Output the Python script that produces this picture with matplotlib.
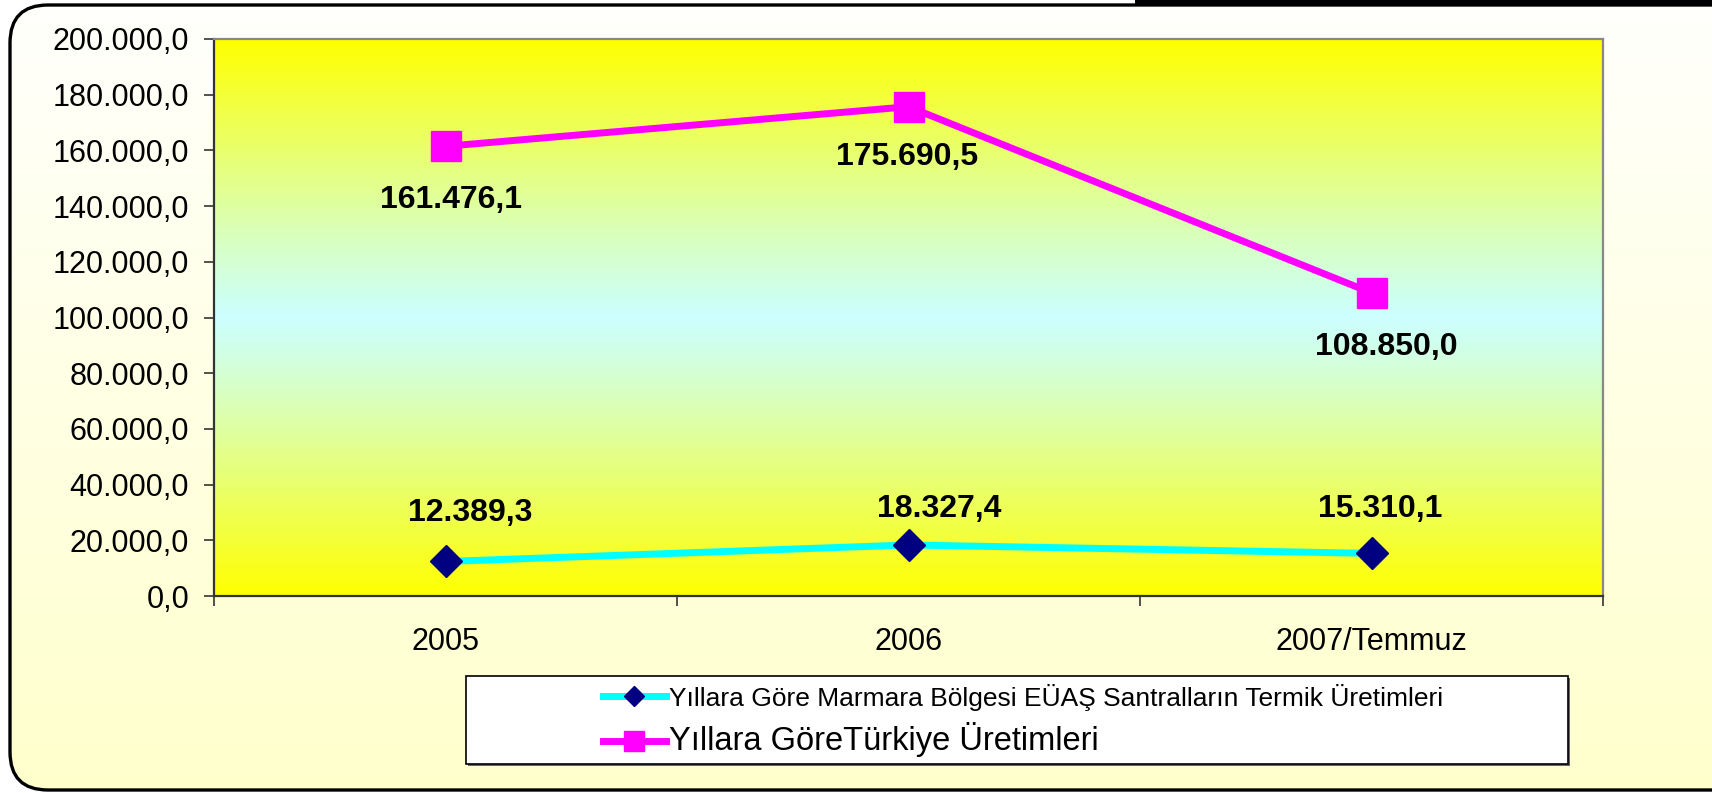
import numpy as np
import matplotlib.pyplot as plt
from matplotlib.patches import FancyBboxPatch, Rectangle
from matplotlib.lines import Line2D

plt.rcParams['font.family'] = ['Liberation Sans', 'DejaVu Sans']

# data
years = ['2005', '2006', '2007/Temmuz']
marmara = [12389.3, 18327.4, 15310.1]
turkiye = [161476.1, 175690.5, 108850.0]
label_marmara = 'Yıllara Göre Marmara Bölgesi EÜAŞ Santralların Termik Üretimleri'
label_turkiye = 'Yıllara GöreTürkiye Üretimleri'


def tr_fmt(v):
    s = f"{v:,.1f}"
    return s.replace(',', 'X').replace('.', ',').replace('X', '.')


W, H = 1712, 793
fig = plt.figure(figsize=(W / 100, H / 100), dpi=100)
fig.patch.set_facecolor('white')

# background with rounded frame
bg = fig.add_axes([0, 0, 1, 1], zorder=-10)
bg.set_xlim(0, W)
bg.set_ylim(H, 0)
bg.axis('off')
grad = np.linspace(0, 1, 256)[:, None]
top_c = np.array([1.0, 1.0, 0.99])
bot_c = np.array([1.0, 1.0, 0.80])
img = top_c + (bot_c - top_c) * grad[..., None]
frame = FancyBboxPatch((10, 5), W + 100, H - 8, boxstyle='round,pad=0,rounding_size=38',
                       facecolor='none', edgecolor='black', linewidth=2.4, zorder=3)
bg.add_patch(frame)
im = bg.imshow(np.repeat(img, 2, axis=1), extent=(0, W, H, 0), aspect='auto', zorder=1)
im.set_clip_path(frame)
bg.plot([1135, W], [2, 2], color='black', linewidth=4.5, solid_capstyle='butt', zorder=4)

# plot area
ax = fig.add_axes([214 / W, 1 - 596 / H, (1603 - 214) / W, (596 - 39) / H])
ax.set_facecolor('none')
g = np.abs(np.linspace(-1, 1, 256))[:, None]
yel = np.array([1.0, 1.0, 0.0])
cy = np.array([0.8, 1.0, 1.0])
pimg = cy + (yel - cy) * g[..., None] ** 1.1
ax.imshow(np.repeat(pimg, 2, axis=1), extent=(0, 1, 0, 1), transform=ax.transAxes,
          aspect='auto', zorder=0)

x = np.arange(len(years))
ax.plot(x, marmara, color='#00FFFF', linewidth=5, marker='D', markersize=16,
        markerfacecolor='#000080', markeredgecolor='#000080', zorder=3)
ax.plot(x, turkiye, color='#FF00FF', linewidth=5, marker='s', markersize=21,
        markerfacecolor='#FF00FF', markeredgecolor='#FF00FF', zorder=3)

off_t = [(4, -39), (-1, -36), (11, -39)]
off_m = [(18, 35), (22, 26), (6, 32)]
for i in range(len(years)):
    ax.annotate(tr_fmt(turkiye[i]), (x[i], turkiye[i]), xytext=off_t[i], textcoords='offset points',
                ha='center', va='center', fontsize=23, fontweight='bold')
    ax.annotate(tr_fmt(marmara[i]), (x[i], marmara[i]), xytext=off_m[i], textcoords='offset points',
                ha='center', va='center', fontsize=23, fontweight='bold')

ax.set_xlim(-0.5, 2.5)
ax.set_ylim(0, 200000)
yt = np.arange(0, 200001, 20000)
ax.set_yticks(yt)
ax.set_yticklabels([tr_fmt(v) for v in yt], fontsize=22)
ax.set_xticks(x)
ax.set_xticklabels(years, fontsize=22)
ax.set_xticks([-0.5, 0.5, 1.5, 2.5], minor=True)
ax.tick_params(axis='x', which='major', length=0, pad=22)
ax.tick_params(axis='x', which='minor', length=7, width=1.2, color='#333333')
ax.tick_params(axis='y', length=7, width=1.2, color='#333333', pad=11)
for s in ['top', 'right']:
    ax.spines[s].set_color('#888888')
    ax.spines[s].set_linewidth(1.6)
for s in ['left', 'bottom']:
    ax.spines[s].set_color('#333333')
    ax.spines[s].set_linewidth(1.6)

# legend box
bg.add_patch(Rectangle((468, 678), 1570 - 468, 88, facecolor='#666666', edgecolor='none', zorder=5))
bg.add_patch(Rectangle((466, 676), 1570 - 468, 88, facecolor='white', edgecolor='black',
                       linewidth=1.2, zorder=6))
handles = [
    Line2D([], [], color='#00FFFF', linewidth=5, marker='D', markersize=10,
           markerfacecolor='#000080', markeredgecolor='#000080'),
    Line2D([], [], color='#FF00FF', linewidth=5, marker='s', markersize=15,
           markerfacecolor='#FF00FF', markeredgecolor='#FF00FF'),
]
leg = fig.legend(handles, [label_marmara, label_turkiye], loc='upper left',
                 bbox_to_anchor=(592 / W, 1 - 673 / H), frameon=False,
                 fontsize=19, handlelength=2.4, handletextpad=0.1, labelspacing=0.45,
                 borderaxespad=0)
leg.get_texts()[1].set_fontsize(23.5)
leg.set_zorder(10)

fig.savefig('out.png', dpi=100)
